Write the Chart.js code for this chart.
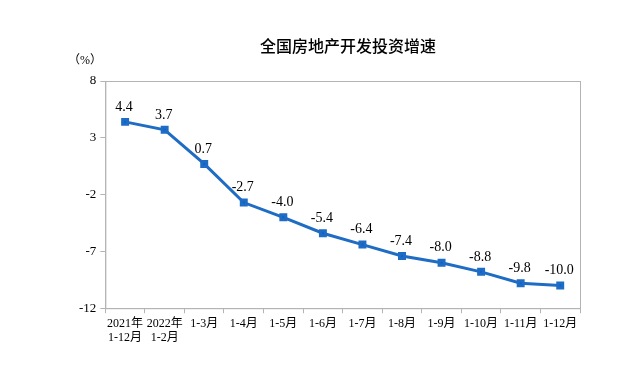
<!DOCTYPE html>
<html>
<head>
<meta charset="utf-8">
<script src="https://cdn.jsdelivr.net/npm/chart.js@4/dist/chart.umd.min.js"></script>
<style>
  body { margin: 0; background: #fff; }
  #wrap { width: 625px; height: 369px; position: relative; }
</style>
</head>
<body>
<div id="wrap"><canvas id="myChart"></canvas></div>
<script>
// data
const chartTitle = "全国房地产开发投资增速";
const categories = [
  ["2021年", "1-12月"], ["2022年", "1-2月"], "1-3月", "1-4月", "1-5月", "1-6月",
  "1-7月", "1-8月", "1-9月", "1-10月", "1-11月", "1-12月"
];
const growthValues = [4.4, 3.7, 0.7, -2.7, -4.0, -5.4, -6.4, -7.4, -8.0, -8.8, -9.8, -10.0];
const yTicks = [-12, -7, -2, 3, 8];

const serif = "'Liberation Serif', 'Times New Roman', 'Noto Sans CJK SC', serif";
const axisGray = "#b4b4b4";

// box around plot area, title, unit and labels above points
const extras = {
  id: "extras",
  afterDatasetsDraw(chart) {
    const c = chart.ctx;
    const a = chart.chartArea;
    c.save();
    c.strokeStyle = axisGray;
    c.lineWidth = 1;
    c.strokeRect(a.left + 0.5, a.top + 0.5, a.right - a.left, a.bottom - a.top);

    const meta = chart.getDatasetMeta(0);
    c.fillStyle = "#000";
    c.font = "14px " + serif;
    c.textAlign = "center";
    c.textBaseline = "bottom";
    meta.data.forEach((pt, i) => {
      c.fillText(growthValues[i].toFixed(1), pt.x - 1, pt.y - 8);
    });

    // title
    c.textBaseline = "middle";
    c.font = "500 16px 'Noto Sans CJK SC', sans-serif";
    c.fillText(chartTitle, 348, 46);

    // unit label
    c.textAlign = "left";
    c.font = "12px " + serif;
    c.fillText("（%）", 68, 61);
    c.restore();
  }
};

var ctx = document.querySelector("#myChart").getContext("2d");
new Chart(ctx, {
  type: "line",
  data: {
    labels: categories,
    datasets: [{
      data: growthValues,
      borderColor: "#1f6cc4",
      backgroundColor: "#0f62c8",
      borderWidth: 3,
      pointStyle: "rect",
      pointRadius: 3.5,
      pointHoverRadius: 3.5,
      tension: 0
    }]
  },
  options: {
    responsive: true,
    maintainAspectRatio: false,
    animation: false,
    layout: { padding: { left: 75, right: 45, top: 81, bottom: 21 } },
    plugins: {
      legend: { display: false },
      tooltip: { enabled: false },
      title: { display: false }
    },
    scales: {
      x: {
        offset: true,
        grid: {
          display: true,
          offset: true,
          drawOnChartArea: false,
          color: axisGray,
          tickLength: 5
        },
        border: { color: axisGray },
        ticks: {
          color: "#000",
          font: { size: 12, family: serif },
          maxRotation: 0,
          autoSkip: false,
          padding: 3
        }
      },
      y: {
        min: -12,
        max: 8,
        afterBuildTicks(axis) {
          axis.ticks = yTicks.map(v => ({ value: v }));
        },
        grid: {
          display: true,
          drawOnChartArea: false,
          color: axisGray,
          tickLength: 5
        },
        border: { color: axisGray },
        ticks: {
          color: "#000",
          font: { size: 13, family: serif },
          padding: 4
        }
      }
    }
  },
  plugins: [extras]
});
</script>
</body>
</html>
